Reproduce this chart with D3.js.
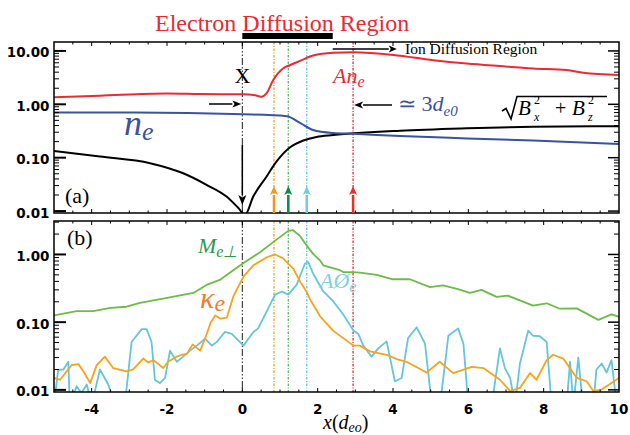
<!DOCTYPE html>
<html>
<head>
<meta charset="utf-8">
<script src="https://cdn.jsdelivr.net/npm/d3@7"></script>
<style>
  body { margin: 0; background: #fff; }
  svg { display: block; }
</style>
</head>
<body>
<svg id="chart" width="630" height="435"></svg>
<script>
// ---- data ----
// panel (a)
const anX = [-5, -3.78, -2.0, -1.12, 0.03, 0.3, 0.51, 0.64, 0.82, 1.08, 1.26, 1.53, 1.88, 2.41, 2.95, 4.01, 5.07, 5.96, 6.84, 7.72, 8.61, 9.05, 10];
const anY = [1.35, 1.45, 1.6, 1.56, 1.54, 1.5, 1.39, 1.6, 2.85, 4.7, 5.4, 6.5, 8.2, 9.2, 9.4, 8.4, 6.7, 5.8, 5.2, 4.7, 4.4, 3.9, 3.55];

const neX = [-5, -2.9, 0.03, 1.18, 1.53, 1.88, 2.41, 2.95, 4.19, 5.96, 7.72, 10];
const neY = [0.70, 0.70, 0.65, 0.60, 0.45, 0.33, 0.29, 0.28, 0.255, 0.23, 0.21, 0.18];

const bX = [-5, -3.78, -2.45, -1.57, -0.95, -0.42, -0.11, 0.07, 0.29, 0.64, 0.91, 1.26, 1.62, 1.97, 2.41, 4.19, 5.96, 7.72, 10];
const bY = [0.134, 0.105, 0.079, 0.051, 0.031, 0.0187, 0.0115, 0.0085, 0.0187, 0.044, 0.085, 0.155, 0.21, 0.245, 0.265, 0.32, 0.355, 0.38, 0.39];

// panel (b)
const meX = [-5, -4.4, -3.96, -3.5, -3.07, -2.72, -2.0, -1.3, -0.95, -0.6, -0.24, 0.03, 0.47, 0.87, 1.22, 1.35, 1.53, 1.71, 1.88, 2.06, 2.15, 2.59, 2.68, 2.94, 3.12, 3.57, 4.0, 4.45, 4.98, 5.33, 5.7, 6.04, 6.35, 6.75, 7.05, 7.72, 8.08, 8.43, 8.88, 9.45, 9.8, 10];
const meY = [0.126, 0.146, 0.146, 0.163, 0.169, 0.193, 0.228, 0.27, 0.355, 0.42, 0.586, 0.75, 1.08, 1.6, 2.23, 2.28, 1.88, 1.35, 1.02, 0.82, 0.69, 0.586, 0.55, 0.548, 0.54, 0.50, 0.43, 0.43, 0.33, 0.35, 0.31, 0.27, 0.30, 0.236, 0.246, 0.176, 0.19, 0.158, 0.16, 0.108, 0.13, 0.12];

const kX = [-5, -4.84, -4.53, -4.35, -4.22, -4.04, -3.87, -3.65, -3.43, -3.07, -2.9, -2.63, -2.5, -2.36, -2.1, -1.97, -1.74, -1.6, -1.47, -1.32, -1.12, -0.99, -0.84, -0.72, -0.59, -0.41, -0.24, 0.03, 0.29, 0.65, 0.87, 1.09, 1.35, 1.53, 1.71, 1.8, 2.06, 2.41, 2.95, 3.12, 3.39, 3.83, 4.1, 4.36, 4.89, 5.24, 5.6, 6.09, 6.4, 6.84, 7.11, 7.37, 7.64, 7.81, 8.08, 8.25, 8.52, 8.88, 9.14, 9.32, 9.54, 9.8, 10];
const kY = [0.015, 0.0141, 0.0233, 0.024, 0.0188, 0.0126, 0.023, 0.031, 0.021, 0.0188, 0.020, 0.029, 0.0254, 0.0275, 0.021, 0.026, 0.031, 0.033, 0.034, 0.047, 0.038, 0.057, 0.099, 0.126, 0.113, 0.117, 0.24, 0.47, 0.69, 0.91, 1.0, 0.87, 0.62, 0.40, 0.28, 0.216, 0.123, 0.075, 0.045, 0.045, 0.037, 0.033, 0.0285, 0.026, 0.018, 0.026, 0.0177, 0.0219, 0.021, 0.0141, 0.0096, 0.0107, 0.0177, 0.0141, 0.0275, 0.033, 0.029, 0.015, 0.0134, 0.0096, 0.0101, 0.0126, 0.015];

const aX = [-5, -4.89, -4.75, -4.62, -4.58, -4.4, -4.27, -4.13, -4.0, -3.78, -3.56, -3.38, -3.12, -2.94, -2.67, -2.54, -2.41, -2.32, -2.19, -2.05, -1.92, -1.74, -1.57, -1.39, -1.21, -0.99, -0.81, -0.68, -0.46, -0.28, 0.03, 0.29, 0.42, 0.65, 0.87, 1.05, 1.22, 1.44, 1.66, 1.75, 1.88, 2.15, 2.41, 2.68, 2.95, 3.08, 3.21, 3.43, 3.61, 3.83, 4.05, 4.23, 4.4, 4.63, 4.85, 5.03, 5.25, 5.47, 5.73, 5.87, 6.0, 6.62, 6.84, 6.97, 7.11, 7.24, 7.37, 7.59, 7.72, 7.9, 8.08, 8.21, 8.61, 8.7, 8.79, 8.92, 9.04, 9.32, 9.4, 9.54, 9.67, 9.8, 9.94, 10];
const aY = [0.006, 0.0198, 0.020, 0.026, 0.006, 0.0113, 0.009, 0.012, 0.006, 0.020, 0.012, 0.006, 0.006, 0.051, 0.079, 0.079, 0.051, 0.014, 0.0126, 0.015, 0.038, 0.026, 0.031, 0.038, 0.045, 0.057, 0.045, 0.051, 0.072, 0.067, 0.045, 0.071, 0.081, 0.146, 0.255, 0.284, 0.255, 0.355, 0.73, 0.77, 0.52, 0.284, 0.204, 0.13, 0.075, 0.067, 0.045, 0.031, 0.041, 0.052, 0.0134, 0.015, 0.058, 0.084, 0.048, 0.006, 0.006, 0.063, 0.081, 0.048, 0.006, 0.006, 0.041, 0.021, 0.015, 0.006, 0.0245, 0.075, 0.063, 0.062, 0.051, 0.006, 0.006, 0.026, 0.006, 0.030, 0.006, 0.006, 0.0198, 0.0245, 0.018, 0.0275, 0.006, 0.006];

// marked positions (x = 0 is the X-point)
const markX = [0, 0.84, 1.22, 1.71, 2.94];
const xTicks = [-4, -2, 0, 2, 4, 6, 8, 10];
const yTicks = [0.01, 0.1, 1, 10];

// ---- layout ----
const svg = d3.select("#chart");
const serif = "'Liberation Serif', 'Times New Roman', serif";
const sans = "'DejaVu Sans', sans-serif";
const L = 54, R = 619;
const x = d3.scaleLinear().domain([-5, 10]).range([L, R]);
const yA = d3.scaleLog().domain([0.0092, 14.7]).range([213, 42]);
const yB = d3.scaleLog().domain([0.0093, 3.12]).range([392, 221]);

const colRed = "#ec2a2f", colBlue = "#3a52a3", colGreen = "#6cbd45",
      colOrange = "#f9a21b", colCyan = "#63c6dc";

function clip(id, y) {
  svg.append("clipPath").attr("id", id).append("rect")
    .attr("x", L).attr("y", y.range()[1]).attr("width", R - L).attr("height", y.range()[0] - y.range()[1]);
}
clip("clipA", yA);
clip("clipB", yB);

function series(y, xs, ys, color, w, curve, clipId) {
  const line = d3.line().x(d => x(d[0])).y(d => y(d[1])).curve(curve);
  svg.append("path")
    .attr("clip-path", `url(#${clipId})`)
    .attr("d", line(d3.zip(xs, ys)))
    .attr("fill", "none").attr("stroke", color).attr("stroke-width", w)
    .attr("stroke-linejoin", "round");
}

function arrow(x1, y1, x2, y2, color, w, hl, hw) {
  const a = Math.atan2(y2 - y1, x2 - x1);
  const bx = x2 - hl * Math.cos(a), by = y2 - hl * Math.sin(a);
  svg.append("line").attr("x1", x1).attr("y1", y1).attr("x2", bx).attr("y2", by)
    .attr("stroke", color).attr("stroke-width", w);
  const px = -Math.sin(a) * hw / 2, py = Math.cos(a) * hw / 2;
  svg.append("path")
    .attr("d", `M${x2},${y2}L${bx + px},${by + py}L${bx + hl * 0.25 * Math.cos(a)},${by + hl * 0.25 * Math.sin(a)}L${bx - px},${by - py}Z`)
    .attr("fill", color);
}

// rich text: parts = [text, size, italic, baseline offset, dx]
function rich(x0, y0, color, parts, anchor) {
  const t = svg.append("text").attr("x", x0).attr("y", y0).attr("fill", color)
    .attr("font-family", serif).attr("text-anchor", anchor || "start");
  let cur = 0;
  parts.forEach(([s, size, it, off, dx]) => {
    const ts = t.append("tspan").text(s).attr("font-size", size)
      .attr("font-style", it ? "italic" : "normal");
    off = off || 0;
    if (off !== cur) ts.attr("dy", off - cur);
    cur = off;
    if (dx) ts.attr("dx", dx);
  });
  return t;
}

function label(x0, y0, s, size, italic, color) {
  return svg.append("text").attr("x", x0).attr("y", y0).attr("fill", color || "#000")
    .attr("font-family", serif).attr("font-size", size)
    .attr("font-style", italic ? "italic" : "normal").text(s);
}

// vertical marker lines
const markColors = ["#222", colOrange, "#5cb85c", colCyan, colRed];
function markLines(y) {
  markX.forEach((m, i) => {
    svg.append("line")
      .attr("x1", x(m)).attr("x2", x(m)).attr("y1", y.range()[1]).attr("y2", y.range()[0])
      .attr("stroke", markColors[i]).attr("stroke-width", i === 0 ? 1 : 1.3)
      .attr("stroke-dasharray", i === 0 ? "7,2,1.5,2,1.5,2" : "2.5,1.5,1,1.5");
  });
}
markLines(yA);
markLines(yB);

// panel (a) curves
series(yA, bX, bY, "#000", 2, d3.curveMonotoneX, "clipA");
series(yA, neX, neY, colBlue, 2, d3.curveMonotoneX, "clipA");
series(yA, anX, anY, colRed, 2, d3.curveMonotoneX, "clipA");

// panel (b) curves
series(yB, aX, aY, colCyan, 1.8, d3.curveLinear, "clipB");
series(yB, kX, kY, colOrange, 1.8, d3.curveLinear, "clipB");
series(yB, meX, meY, colGreen, 1.8, d3.curveLinear, "clipB");

// axes: frame + inward ticks
function frame(y) {
  const [b, t] = y.range();
  svg.append("rect").attr("x", L).attr("y", t).attr("width", R - L).attr("height", b - t)
    .attr("fill", "none").attr("stroke", "#000").attr("stroke-width", 1.5);
  const g = svg.append("g").attr("stroke", "#000").attr("stroke-width", 1);
  d3.range(-4.5, 10, 0.5).forEach(v => {
    const len = (Math.abs(v % 2) < 1e-6) ? 4 : 2.5;
    g.append("line").attr("x1", x(v)).attr("x2", x(v)).attr("y1", b).attr("y2", b - len);
    g.append("line").attr("x1", x(v)).attr("x2", x(v)).attr("y1", t).attr("y2", t + len);
  });
  const [lo, hi] = y.domain();
  for (let e = -3; e <= 1; e++) {
    for (let k = 1; k <= 9; k++) {
      const v = k * Math.pow(10, e);
      if (v < lo || v > hi) continue;
      const major = k === 1;
      g.append("line").attr("x1", L).attr("x2", L + (major ? 12 : 5))
        .attr("y1", y(v)).attr("y2", y(v)).attr("stroke-width", major ? 2 : 1);
      g.append("line").attr("x1", R).attr("x2", R - (major ? 11 : 5))
        .attr("y1", y(v)).attr("y2", y(v)).attr("stroke-width", major ? 1.5 : 1);
    }
  }
  yTicks.filter(v => v >= lo && v <= hi).forEach(v => {
    svg.append("text").attr("x", 49.5).attr("y", y(v) + 6.5)
      .attr("text-anchor", "end").attr("font-family", sans).attr("font-weight", "bold")
      .attr("font-size", 13.5).text(d3.format(".2f")(v));
  });
}
frame(yA);
frame(yB);

xTicks.forEach(v => {
  svg.append("text").attr("x", x(v)).attr("y", 413.5)
    .attr("text-anchor", "middle").attr("font-family", sans).attr("font-weight", "bold")
    .attr("font-size", 13.5).text(v < 0 ? "-" + Math.abs(v) : v);
});

// x axis title
rich(323, 429, "#000", [["x", 20, true], ["(", 20, false], ["d", 20, true], ["eo", 14, true, 3], [")", 20, false, 0]]);

// ---- panel (a) annotations ----
svg.append("text").attr("x", 155).attr("y", 31).attr("fill", colRed)
  .attr("font-family", serif).attr("font-size", 24).text("Electron Diffusion Region");
svg.append("rect").attr("x", x(0)).attr("y", 33).attr("width", x(2.4) - x(0)).attr("height", 6).attr("fill", "#000");

arrow(x(2.4), 49, x(4.1), 49, "#000", 1.5, 8, 7);
svg.append("text").attr("x", 405).attr("y", 54).attr("font-family", serif)
  .attr("font-size", 15.5).text("Ion Diffusion Region");

svg.append("text").attr("x", x(0)).attr("y", 83).attr("text-anchor", "middle")
  .attr("font-family", serif).attr("font-size", 22).text("X");

arrow(209, 104, x(0) - 1, 104, "#000", 1.5, 9, 7);
arrow(392, 105, x(2.94) + 1, 105, "#000", 1.5, 9, 7);
arrow(x(0), 145, x(0), 205, "#000", 1.5, 10, 8);

rich(398, 111, colBlue, [["\u2243 3", 22, false], ["d", 22, true], ["e0", 15, true, 5]]);
rich(333, 83, colRed, [["An", 22, true], ["e", 16, true, 4]]);
rich(124, 135, colBlue, [["n", 36, true], ["e", 26, true, 5]]);
label(65, 203, "(a)", 22, false);

// sqrt(Bx^2 + Bz^2)
svg.append("path").attr("d", "M502,111L506,108.5L511,119L517,96.5L607,96.5")
  .attr("fill", "none").attr("stroke", "#000").attr("stroke-width", 1.6);
label(518, 115, "B", 21, true);
label(534, 104, "2", 12, false);
label(534, 121, "x", 12, true);
label(555, 115, "+", 20, false);
label(572, 115, "B", 21, true);
label(588, 104, "2", 12, false);
label(588, 121, "z", 12, true);

// up arrows at marked positions
const upColors = ["#f7941d", "#0b8a44", "#6ccde3", "#ed2f24"];
markX.slice(1).forEach((m, i) => arrow(x(m), 213, x(m), 186, upColors[i], 2.5, 9, 8));

// ---- panel (b) annotations ----
label(67, 245, "(b)", 22, false);
rich(198, 253, "#2a9a4e", [["M", 22, true], ["e\u22a5", 16, true, 4]]);
rich(200, 308, "#f47c2a", [["\u03ba", 30, true], ["e", 24, true, 3]]);
rich(320, 288, "#80d0e4", [["A\u00d8", 22, true], ["e", 16, true, 4]]);
</script>
</body>
</html>
